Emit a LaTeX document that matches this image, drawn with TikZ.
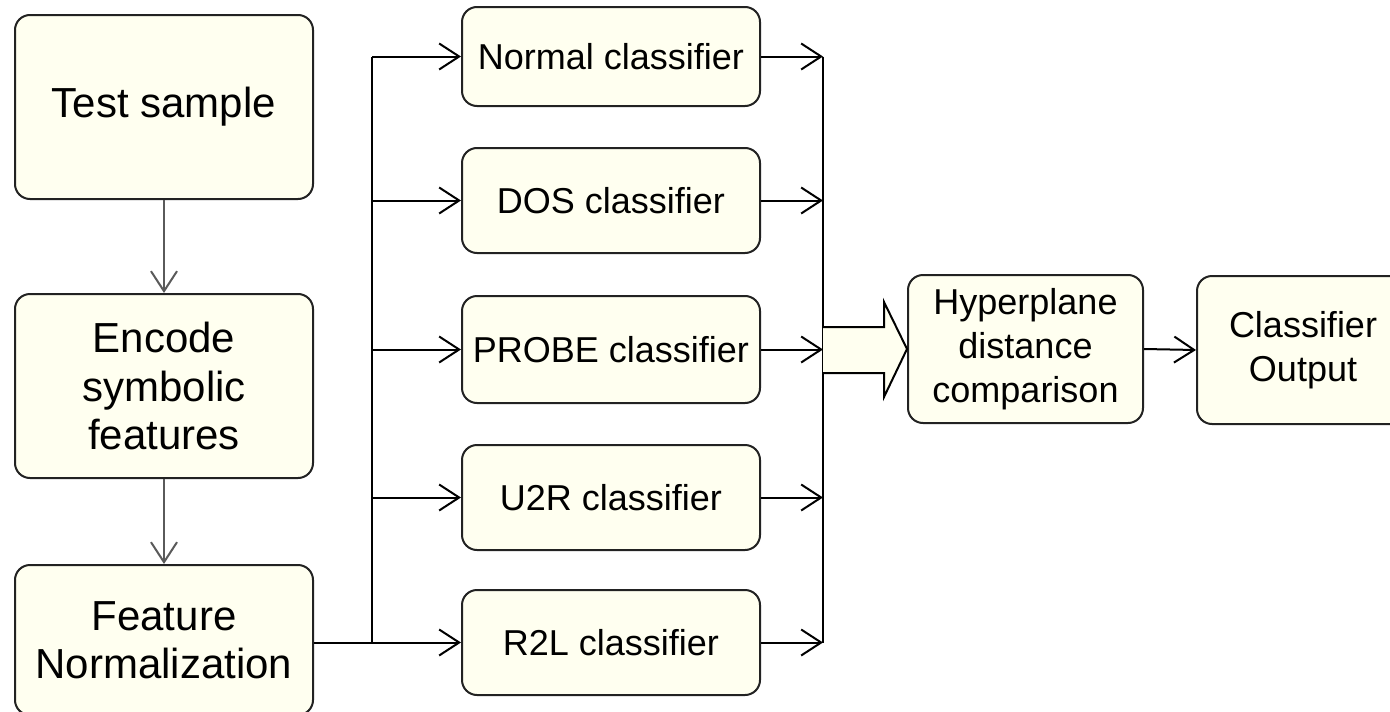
\documentclass[tikz,border=0pt]{standalone}
\usepackage{fontspec}
\setmainfont{Liberation Sans}
\usetikzlibrary{arrows.meta,calc}

\definecolor{boxfill}{RGB}{255,255,240}
\definecolor{boxline}{RGB}{34,34,34}
\definecolor{flowgray}{RGB}{90,90,90}

\tikzset{
  procbox/.style={draw=boxline, fill=boxfill, line width=2pt, rounded corners=15pt,
    align=center, inner sep=0pt},
  leftbox/.style={procbox, minimum width=298pt, font=\fontsize{42}{48.5}\selectfont},
  clsbox/.style={procbox, minimum width=298pt, minimum height=105pt, font=\fontsize{36}{44}\selectfont},
  rightbox/.style={procbox, minimum height=148pt, font=\fontsize{36}{44}\selectfont},
  arr/.style={line width=2pt, -{Straight Barb[length=20pt,width=26pt]}},
  varr/.style={line width=2pt, draw=flowgray, -{Straight Barb[length=20pt,width=26pt]}},
  busline/.style={line width=2pt},
}

\begin{document}
\begin{tikzpicture}[x=1pt, y=-1pt]
  \useasboundingbox (0,0) rectangle (1390,712);
  \clip (0,0) rectangle (1390,712);
  \fill[white] (0,0) rectangle (1390,712);

  % left column: preprocessing
  \node[leftbox, minimum height=184pt] (ts)  at (164,107) {Test sample};
  \node[leftbox, minimum height=184pt] (enc) at (164,386) {Encode\\symbolic\\features};
  \node[leftbox, minimum height=150pt] (fn)  at (164,640) {Feature\\Normalization};

  % middle column: per-class classifiers
  \node[clsbox, minimum height=99pt] (nor) at (611,56.5) {Normal classifier};
  \node[clsbox] (dos) at (611,200.5) {DOS classifier};
  \node[clsbox, minimum height=107pt] (pro) at (611,349.5) {PROBE classifier};
  \node[clsbox] (u2r) at (611,497.5) {U2R classifier};
  \node[clsbox] (r2l) at (611,642.5) {R2L classifier};

  % right column: decision
  \node[rightbox, minimum width=235pt] (hyp) at (1025.5,349) {Hyperplane\\distance\\comparison};
  \node[rightbox, minimum width=212pt] (out) at (1303,350) {Classifier\\Output};

  % bus positions
  \coordinate (lbx) at (372,0);
  \coordinate (rbx) at (823,0);

  % preprocessing flow
  \draw[varr] (ts.south) -- (enc.north);
  \draw[varr] (enc.south) -- (fn.north);

  % distribution bus to the classifiers
  \draw[busline] (nor.west -| lbx) -- (r2l.west -| lbx);
  \draw[arr] (fn.east |- r2l.west) -- (r2l.west);
  \foreach \c in {nor,dos,pro,u2r}
    \draw[arr] (\c.west -| lbx) -- (\c.west);

  % collecting bus from the classifiers
  \draw[busline] (nor.east -| rbx) -- (r2l.east -| rbx);
  \foreach \c in {nor,dos,pro,u2r,r2l}
    \draw[arr] (\c.east) -- (\c.east -| rbx);

  % wide block arrow into the comparison stage
  \coordinate (tip) at (hyp.west);
  \path[fill=boxfill]
    ($(tip -| rbx)+(0,-22)$) -- ($(tip)+(-23,-22)$) -- ($(tip)+(-23,-47)$) -- (tip)
    -- ($(tip)+(-23,48)$) -- ($(tip)+(-23,24)$) -- ($(tip -| rbx)+(0,24)$) -- cycle;
  \draw[line width=2pt, line join=miter]
    ($(tip -| rbx)+(0,-22)$) -- ($(tip)+(-23,-22)$) -- ($(tip)+(-23,-47)$) -- (tip)
    -- ($(tip)+(-23,48)$) -- ($(tip)+(-23,24)$) -- ($(tip -| rbx)+(0,24)$);

  % final output
  \draw[arr] (hyp.east) -- (out.west);
\end{tikzpicture}
\end{document}
